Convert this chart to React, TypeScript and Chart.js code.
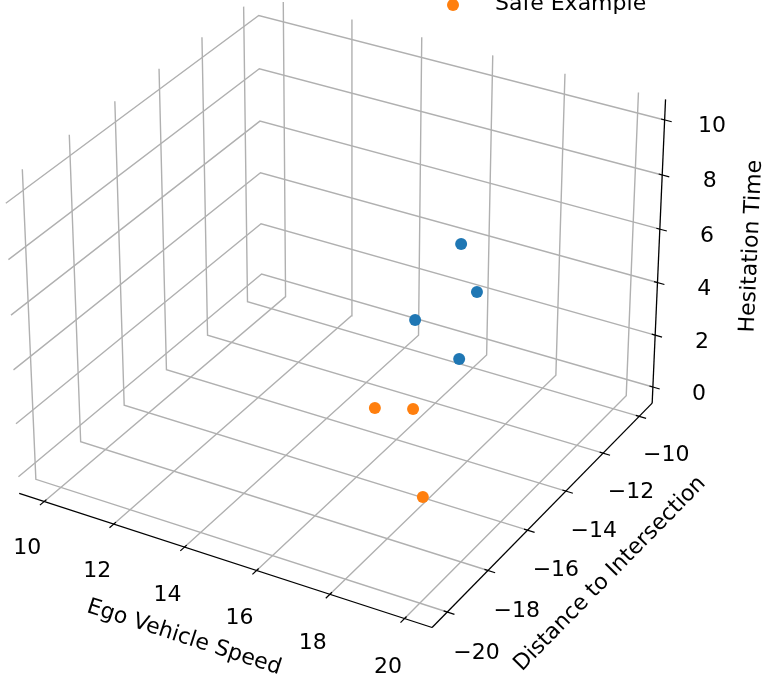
import React, { useEffect, useRef } from "react";
import { Chart, registerables } from "chart.js";

Chart.register(...registerables);

// ---------------- data ----------------
// displayed 3D box limits (x: speed, y: distance, z: hesitation)
const xBox = [9.271, 20.729];
const yBox = [-20.729, -9.271];
const zBox = [-0.63, 10.74];

const xTicks = [10, 12, 14, 16, 18, 20];
const yTicks = [-20, -18, -16, -14, -12, -10];
const zTicks = [0, 2, 4, 6, 8, 10];
const xTickLabels = ["10", "12", "14", "16", "18", "20"];
const yTickLabels = ["\u221220", "\u221218", "\u221216", "\u221214", "\u221212", "\u221210"];
const zTickLabels = ["0", "2", "4", "6", "8", "10"];

const xTitle = "Ego Vehicle Speed";
const yTitle = "Distance to Intersection";
const zTitle = "Hesitation Time";

const safeLabel = "Safe Example";

// blue series (legend entry cut off at top of the picture)
const blueSpeed = [16.86, 17.39, 15.99, 17.05];
const blueDistance = [-12.37, -12.5, -13.08, -12.73];
const blueHesitation = [6.0, 4.5, 3.3, 2.0];

// orange series: Safe Example
const safeSpeed = [15.18, 16.03, 18.2];
const safeDistance = [-13.64, -13.21, -16.62];
const safeHesitation = [0, 0, 0];

// ---------------- view / styling ----------------
const W = 763;
const H = 681;
const ELEV = 30;
const AZIM = -60;
const DIST = 10;
const VIEW_CX = 341.3;
const VIEW_CY = 297;
const VIEW_S = 4140;
const FONT = '22px "DejaVu Sans"';
const GRID_COLOR = "#b0b0b0";
const BLUE = "#1f77b4";
const ORANGE = "#ff7f0e";

const ASPECT = (() => {
  const a = [4, 4, 3];
  const n = Math.hypot(a[0], a[1], a[2]);
  return a.map((v) => (v * 1.8294640721620434) / n);
})();

const e = (ELEV * Math.PI) / 180;
const az = (AZIM * Math.PI) / 180;
const wv = [Math.cos(e) * Math.cos(az), Math.cos(e) * Math.sin(az), Math.sin(e)];
const uRaw = [-wv[1], wv[0], 0];
const uN = Math.hypot(uRaw[0], uRaw[1]);
const uv = [uRaw[0] / uN, uRaw[1] / uN, 0];
const vv = [
  wv[1] * uv[2] - wv[2] * uv[1],
  wv[2] * uv[0] - wv[0] * uv[2],
  wv[0] * uv[1] - wv[1] * uv[0],
];
const dot = (a: number[], b: number[]) => a[0] * b[0] + a[1] * b[1] + a[2] * b[2];

function project(x: number, y: number, z: number) {
  const q = [
    ((x - xBox[0]) / (xBox[1] - xBox[0]) - 0.5) * ASPECT[0],
    ((y - yBox[0]) / (yBox[1] - yBox[0]) - 0.5) * ASPECT[1],
    ((z - zBox[0]) / (zBox[1] - zBox[0]) - 0.5) * ASPECT[2],
  ];
  const den = DIST - dot(wv, q);
  return { x: dot(uv, q) / den, y: dot(vv, q) / den };
}

const rX = xBox[1] - xBox[0];
const rY = yBox[1] - yBox[0];
const rZ = zBox[1] - zBox[0];
const TICK_OUT = 1 / 60;
const TICK_IN = 1 / 120;

function lineDs(pts: number[][], color: string, width: number, order: number) {
  return {
    type: "scatter" as const,
    data: pts.map((p) => project(p[0], p[1], p[2])),
    showLine: true,
    borderColor: color,
    borderWidth: width,
    pointRadius: 0,
    pointHoverRadius: 0,
    fill: false,
    tension: 0,
    order,
  };
}

function buildDatasets() {
  const ds: any[] = [];
  xTicks.forEach((v) =>
    ds.push(lineDs([[v, yBox[0], zBox[0]], [v, yBox[1], zBox[0]], [v, yBox[1], zBox[1]]], GRID_COLOR, 1.4, 3))
  );
  yTicks.forEach((v) =>
    ds.push(lineDs([[xBox[1], v, zBox[0]], [xBox[0], v, zBox[0]], [xBox[0], v, zBox[1]]], GRID_COLOR, 1.4, 3))
  );
  zTicks.forEach((v) =>
    ds.push(lineDs([[xBox[0], yBox[0], v], [xBox[0], yBox[1], v], [xBox[1], yBox[1], v]], GRID_COLOR, 1.4, 3))
  );
  // axis lines
  ds.push(lineDs([[xBox[0], yBox[0], zBox[0]], [xBox[1], yBox[0], zBox[0]]], "#000", 1.3, 2));
  ds.push(lineDs([[xBox[1], yBox[0], zBox[0]], [xBox[1], yBox[1], zBox[0]]], "#000", 1.3, 2));
  ds.push(lineDs([[xBox[1], yBox[1], zBox[0]], [xBox[1], yBox[1], zBox[1]]], "#000", 1.3, 2));
  // tick marks
  xTicks.forEach((v) =>
    ds.push(lineDs([[v, yBox[0] - TICK_OUT * rY, zBox[0]], [v, yBox[0] + TICK_IN * rY, zBox[0]]], "#000", 1.2, 2))
  );
  yTicks.forEach((v) =>
    ds.push(lineDs([[xBox[1] + TICK_OUT * rX, v, zBox[0]], [xBox[1] - TICK_IN * rX, v, zBox[0]]], "#000", 1.2, 2))
  );
  zTicks.forEach((v) =>
    ds.push(lineDs([[xBox[1] + TICK_OUT * rX, yBox[1], v], [xBox[1] - TICK_IN * rX, yBox[1], v]], "#000", 1.2, 2))
  );
  // scatter series
  ds.push({
    type: "scatter",
    label: "blue",
    data: blueSpeed.map((s, i) => project(s, blueDistance[i], blueHesitation[i])),
    backgroundColor: BLUE,
    pointRadius: 6,
    pointBorderWidth: 0,
    pointHoverRadius: 6,
    order: 1,
  });
  ds.push({
    type: "scatter",
    label: safeLabel,
    data: safeSpeed.map((s, i) => project(s, safeDistance[i], safeHesitation[i])),
    backgroundColor: ORANGE,
    pointRadius: 6,
    pointBorderWidth: 0,
    pointHoverRadius: 6,
    order: 0,
  });
  return ds;
}

const textPlugin = {
  id: "text3d",
  afterDatasetsDraw(chart: any) {
    const ctx = chart.ctx as CanvasRenderingContext2D;
    const sx = chart.scales.x;
    const sy = chart.scales.y;
    const px = (x: number, y: number, z: number) => {
      const p = project(x, y, z);
      return [sx.getPixelForValue(p.x), sy.getPixelForValue(p.y)];
    };
    const centered = (text: string, cx: number, cy: number, angle: number) => {
      ctx.save();
      ctx.font = FONT;
      ctx.fillStyle = "#000";
      ctx.textAlign = "left";
      ctx.textBaseline = "alphabetic";
      ctx.translate(cx, cy);
      ctx.rotate(angle);
      const m = ctx.measureText(text);
      const ox = (m.actualBoundingBoxLeft - m.actualBoundingBoxRight) / 2;
      const oy = (m.actualBoundingBoxAscent - m.actualBoundingBoxDescent) / 2;
      ctx.fillText(text, ox, oy);
      ctx.restore();
    };
    // tick labels
    xTicks.forEach((v, i) => {
      const [a, b] = px(v, yBox[0] - 0.0674 * rY, zBox[0] - 0.099 * rZ);
      centered(xTickLabels[i], a, b, 0);
    });
    yTicks.forEach((v, i) => {
      const [a, b] = px(xBox[1] + 0.07 * rX, v, zBox[0] - 0.096 * rZ);
      centered(yTickLabels[i], a, b, 0);
    });
    zTicks.forEach((v, i) => {
      const [a, b] = px(xBox[1] + 0.096 * rX, yBox[1] + 0.033 * rY, v);
      centered(zTickLabels[i], a, b, 0);
    });
    // axis titles
    const ang = (p0: number[], p1: number[]) => Math.atan2(p1[1] - p0[1], p1[0] - p0[0]);
    const xm = (xBox[0] + xBox[1]) / 2;
    const ym = (yBox[0] + yBox[1]) / 2;
    const zm = (zBox[0] + zBox[1]) / 2;
    {
      const a0 = px(xBox[0], yBox[0], zBox[0]);
      const a1 = px(xBox[1], yBox[0], zBox[0]);
      const [a, b] = px(xm, yBox[0] - 0.146 * rY, zBox[0] - 0.146 * rZ);
      centered(xTitle, a, b, ang(a0, a1));
    }
    {
      const a0 = px(xBox[1], yBox[0], zBox[0]);
      const a1 = px(xBox[1], yBox[1], zBox[0]);
      const [a, b] = px(xBox[1] + 0.15 * rX, ym, zBox[0] - 0.14 * rZ);
      centered(yTitle, a, b, ang(a0, a1));
    }
    {
      const a0 = px(xBox[1], yBox[1], zBox[0]);
      const a1 = px(xBox[1], yBox[1], zBox[1]);
      const [a, b] = px(xBox[1] + 0.152 * rX, yBox[1] + 0.134 * rY, zm);
      centered(zTitle, a, b, ang(a0, a1));
    }
    // legend (top, partly outside the picture)
    const area = chart.chartArea;
    ctx.save();
    ctx.fillStyle = ORANGE;
    ctx.beginPath();
    ctx.arc(area.left + 453, area.top + 5, 6, 0, Math.PI * 2);
    ctx.fill();
    ctx.fillStyle = "#000";
    ctx.font = FONT;
    ctx.textAlign = "left";
    ctx.textBaseline = "alphabetic";
    ctx.fillText(safeLabel, area.left + 495, area.top + 10);
    ctx.restore();
  },
};

export default function App() {
  const ref = useRef<HTMLCanvasElement | null>(null);
  useEffect(() => {
    if (!ref.current) return;
    const chart = new Chart(ref.current, {
      type: "scatter",
      data: { datasets: buildDatasets() },
      options: {
        responsive: false,
        maintainAspectRatio: false,
        animation: false,
        events: [],
        layout: { padding: 0, autoPadding: false },
        plugins: { legend: { display: false }, tooltip: { enabled: false } },
        scales: {
          x: { type: "linear", display: false, min: -VIEW_CX / VIEW_S, max: (W - VIEW_CX) / VIEW_S },
          y: { type: "linear", display: false, min: -(H - VIEW_CY) / VIEW_S, max: VIEW_CY / VIEW_S },
        },
      },
      plugins: [textPlugin],
    } as any);
    return () => chart.destroy();
  }, []);
  return (
    <div style={{ position: "absolute", left: 0, top: 0, width: W, height: H, background: "#fff" }}>
      <canvas ref={ref} width={W} height={H} style={{ display: "block", width: W, height: H }} />
    </div>
  );
}
